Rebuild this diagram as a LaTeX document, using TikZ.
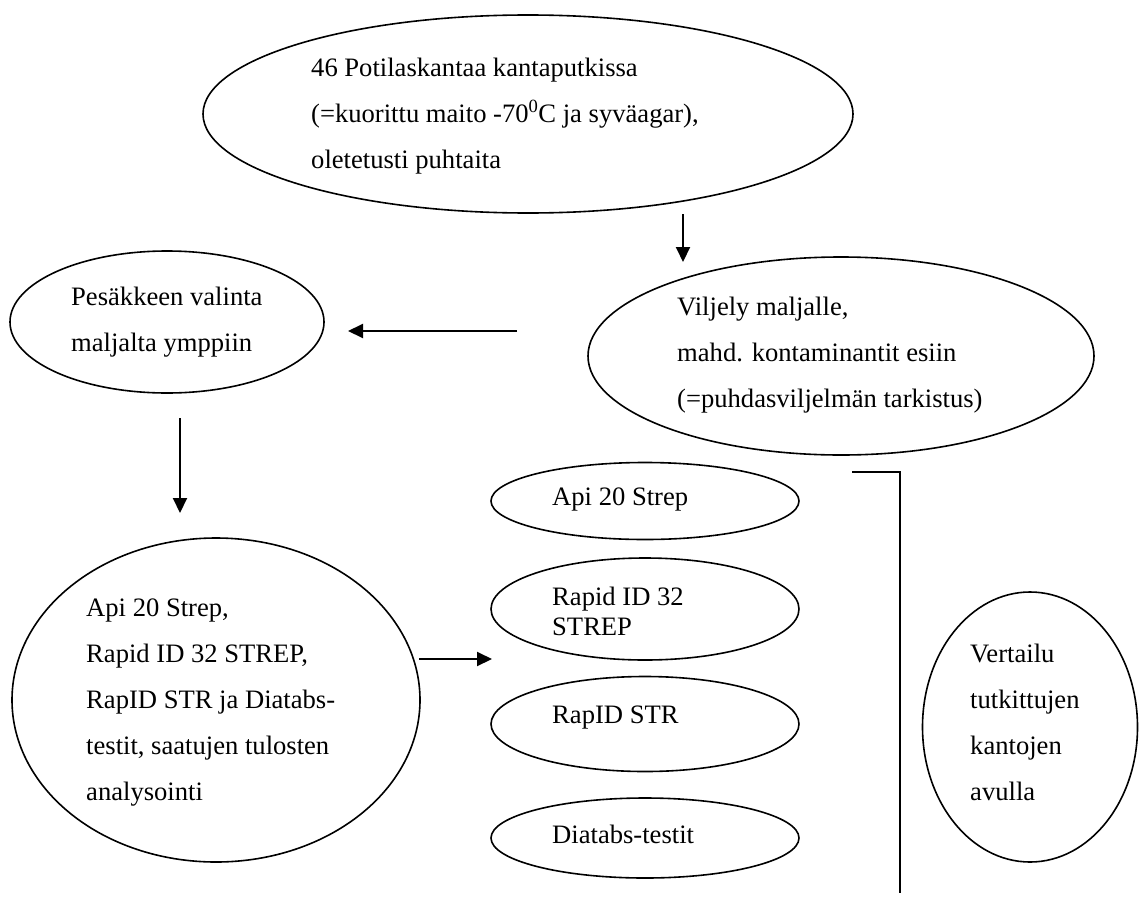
\documentclass[tikz,border=0pt]{standalone}
\usepackage{fontspec}
\setmainfont{Liberation Serif}
\usetikzlibrary{shapes.geometric,arrows.meta}
\begin{document}
\begin{tikzpicture}[x=1pt,y=-1pt,
  oval/.style={draw,ellipse,line width=1.6pt,inner sep=0pt},
  txt/.style={anchor=base west,align=left,inner sep=0pt,font=\fontsize{26.6}{46}\selectfont},
  arr/.style={line width=2pt,-{Triangle[length=15pt,width=14pt]}}]
\useasboundingbox (0,0) rectangle (1139,907);

% (base = viimeisen rivin perusviiva)
\node[oval,minimum width=650pt,minimum height=198pt] (pot) at (528,114) {};
\node[txt] (potT) at (311,168) {46 Potilaskantaa kantaputkissa\\(=kuorittu maito -70\textsuperscript{0}C ja syväagar),\\oletetusti puhtaita};

\node[oval,minimum width=506pt,minimum height=198pt] (vilj) at (841,356) {};
\node[txt] (viljT) at (677,407) {Viljely maljalle,\\mahd. kontaminantit esiin\\(=puhdasviljelmän tarkistus)};

\node[oval,minimum width=314pt,minimum height=142pt] (pes) at (167,322) {};
\node[txt] (pesT) at (71,351) {Pesäkkeen valinta\\maljalta ymppiin};

\node[oval,minimum width=408pt,minimum height=324pt] (testit) at (216,700) {};
\node[txt] (testitT) at (86,800) {Api 20 Strep,\\Rapid ID 32 STREP,\\RapID STR ja Diatabs-\\testit, saatujen tulosten\\analysointi};

\node[oval,minimum width=308pt,minimum height=77pt] (api) at (645,501) {};
\node[txt] (apiT) at (552,505) {Api 20 Strep};
\node[oval,minimum width=308pt,minimum height=102pt] (rid) at (645,609) {};
\node[txt,font=\fontsize{26.6}{30}\selectfont] (ridT) at (552,635) {Rapid ID 32\\STREP};
\node[oval,minimum width=308pt,minimum height=95pt] (rstr) at (645,724) {};
\node[txt] (rstrT) at (552,723) {RapID STR};
\node[oval,minimum width=308pt,minimum height=80pt] (diat) at (645,838) {};
\node[txt] (diatT) at (552,843) {Diatabs-testit};

\node[oval,minimum width=215pt,minimum height=270pt] (vert) at (1030,727) {};
\node[txt] (vertT) at (970,800) {Vertailu\\tutkittujen\\kantojen\\avulla};

% nuolet
\coordinate (a1) at (683,214);
\coordinate (a2) at (683,262);
\coordinate (b1) at (517,331);
\coordinate (b2) at (348,331);
\coordinate (c1) at (180,418);
\coordinate (c2) at (180,513);
\coordinate (d1) at (419,659);
\coordinate (d2) at (492,659);
\draw[arr] (a1) -- (a2);
\draw[arr] (b1) -- (b2);
\draw[arr] (c1) -- (c2);
\draw[arr] (d1) -- (d2);

\coordinate (k1) at (852,472);
\coordinate (k2) at (900,472);
\coordinate (k3) at (900,893);
\draw[line width=2pt] (k1) -- (k2) -- (k3);
\end{tikzpicture}
\end{document}
